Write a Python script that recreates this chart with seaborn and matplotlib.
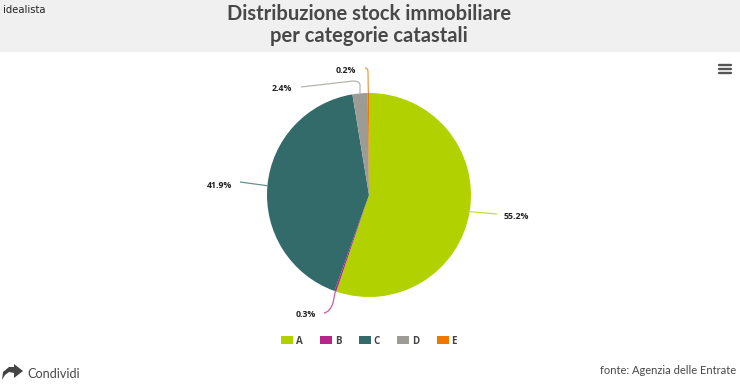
import numpy as np
import seaborn as sns
import matplotlib.pyplot as plt
from matplotlib.patches import Rectangle, PathPatch
from matplotlib.path import Path

# dati
categories = ['A', 'B', 'C', 'D', 'E']
shares = [55.2, 0.3, 41.9, 2.4, 0.2]
share_labels = ['55.2%', '0.3%', '41.9%', '2.4%', '0.2%']
colors = ['#b2d200', '#b8258a', '#336a6a', '#9c9c94', '#f07800']

W, H = 740, 389
sns.set_theme(style='white')
plt.rcParams['font.family'] = ['Lato', 'DejaVu Sans']

fig = plt.figure(figsize=(W / 100, H / 100), dpi=100, facecolor='white')

# overlay in pixel
bg = fig.add_axes([0, 0, 1, 1])
bg.set_xlim(0, W)
bg.set_ylim(H, 0)
bg.axis('off')
bg.add_patch(Rectangle((0, 0), W, 52, color='#f0f0f0', lw=0))

# torta
cx, cy, r = 369, 195, 102
ax = fig.add_axes([(cx - r) / W, 1 - (cy + r) / H, 2 * r / W, 2 * r / H])
wedges, _ = ax.pie(shares, colors=colors, startangle=90, counterclock=False,
                   radius=1, wedgeprops={'linewidth': 0})
ax.set_xlim(-1, 1)
ax.set_ylim(-1, 1)

# connettori: gomito, controllo curva, fine curva, fine linea; poi posizione testo
label_style = [
    ((497, 214), None, None, None, (504, 216.5), 'left'),
    ((333, 303), (330, 312), (324, 313), None, (316, 314.5), 'right'),
    ((240, 182), None, None, None, (232, 185), 'right'),
    ((360, 85), (360, 81), (353, 81), (301, 87), (292, 88.5), 'right'),
    ((368, 72), (368, 68), (365, 68), None, (356, 70.5), 'right'),
]
cum = np.cumsum([0] + shares)
for i, val in enumerate(shares):
    ang = np.deg2rad((cum[i] + val / 2) / cum[-1] * 360)
    start = (cx + r * np.sin(ang), cy - r * np.cos(ang))
    elbow, ctrl, curve_end, end, txt, ha = label_style[i]
    verts, codes = [start, elbow], [Path.MOVETO, Path.LINETO]
    if ctrl is not None:
        verts += [ctrl, curve_end]
        codes += [Path.CURVE3, Path.CURVE3]
    if end is not None:
        verts.append(end)
        codes.append(Path.LINETO)
    bg.add_patch(PathPatch(Path(verts, codes), fc='none', ec=colors[i], lw=0.9, alpha=0.75))
    bg.text(txt[0], txt[1], share_labels[i], ha=ha, va='center', fontsize=6.3,
            fontweight='bold', color='#222222', family=['Open Sans'])

# titolo e testi
bg.text(369, 14, 'Distribuzione stock immobiliare', ha='center', va='center',
        fontsize=14.5, fontweight='bold', color='#484848')
bg.text(369, 36, 'per categorie catastali', ha='center', va='center',
        fontsize=14.5, fontweight='bold', color='#484848')
bg.text(3, 9.5, 'idealista', ha='left', va='center', fontsize=7.2, color='#222222',
        family=['DejaVu Sans'])
bg.text(27, 373.5, 'Condividi', ha='left', va='center', fontsize=9.1, color='#484848')
bg.text(736, 370, 'fonte: Agenzia delle Entrate', ha='right', va='center', fontsize=8.0,
        color='#484848')

# icona menu
for y in [64.5, 68.5, 72.5]:
    bg.plot([718.5, 730.5], [y, y], color='#555555', lw=1.7, solid_capstyle='round')

# icona condividi
arrow = [(2, 380), (3, 372), (9, 367), (14, 367), (14, 364), (23, 371), (14, 378), (14, 373),
         (9, 372), (5, 375), (2, 380)]
bg.add_patch(PathPatch(Path(arrow), fc='#444444', ec='none'))

# legenda
leg = bg.legend(wedges, categories, ncol=5, loc='center', bbox_to_anchor=(369 / W, 1 - 341 / H),
                frameon=False, handlelength=1.2, handleheight=0.87,
                handletextpad=0.3, columnspacing=1.82, labelcolor='#444444',
                prop={'family': ['Open Sans'], 'weight': 'bold', 'size': 7})
for h in leg.legend_handles:
    h.set_linewidth(0)

fig.savefig('out.png', dpi=100)
